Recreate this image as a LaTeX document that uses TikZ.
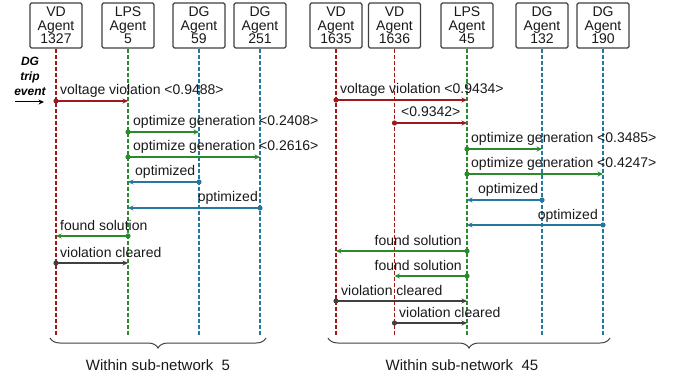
\documentclass[tikz,border=0pt]{standalone}
\usepackage{fontspec}
\setmainfont{Liberation Sans}
\usetikzlibrary{arrows.meta,decorations.pathreplacing}
\definecolor{vdred}{HTML}{9E1A1A}
\definecolor{lpsgreen}{HTML}{2B8A2B}
\definecolor{dgblue}{HTML}{25779E}
\definecolor{clrgray}{HTML}{404040}
\newcommand\msgarrow[5]{%
  \coordinate (#5s) at (#2 |- 0,#4);
  \coordinate (#5e) at (#3 |- 0,#4);
  \draw[msg,#1] (#5s) -- (#5e);
  \fill[#1] (#5s) circle (2.6pt);}
\begin{document}
\begin{tikzpicture}[x=1pt,y=-1pt,
  agent/.style={draw=clrgray, line width=1.3pt, rounded corners=1.5pt, fill=white,
    minimum width=52pt, minimum height=45pt, inner sep=0pt, align=center,
    font=\fontsize{14}{13.5}\selectfont, text=black!90},
  life/.style={dashed, dash pattern=on 4pt off 2pt, line width=1.2pt},
  msg/.style={line width=1.3pt, -{Stealth[length=5.5pt,width=5pt]}},
  lbl/.style={inner sep=0pt, font=\fontsize{14}{16}\selectfont, text=black!90},
  sub/.style={font=\fontsize{15}{18}\selectfont, text=black!90}]
\useasboundingbox (0,0) rectangle (678,377);
% agents
\node[agent] (b1) at (56,25.5) {VD\\Agent\\1327};
\node[agent] (b2) at (128,25.5) {LPS\\Agent\\5};
\node[agent] (b3) at (199,25.5) {DG\\Agent\\59};
\node[agent] (b4) at (260,25.5) {DG\\Agent\\251};
\node[agent] (b5) at (336,25.5) {VD\\Agent\\1635};
\node[agent] (b6) at (394.5,25.5) {VD\\Agent\\1636};
\node[agent] (b7) at (467,25.5) {LPS\\Agent\\45};
\node[agent] (b8) at (542,25.5) {DG\\Agent\\132};
\node[agent] (b9) at (603,25.5) {DG\\Agent\\190};
% lifelines
\foreach \b/\c in {b1/vdred,b2/lpsgreen,b3/dgblue,b4/dgblue,b5/vdred,b6/vdred,b7/lpsgreen,b8/dgblue,b9/dgblue}
  \draw[life,\c] (\b.south) -- (\b.south |- 0,335);
% trip event
\node[inner sep=0pt, align=center, font=\fontsize{12}{15}\bfseries\itshape\selectfont] (trip) at (30,76) {DG\\trip\\event};
\coordinate (tripa) at (15,102);
\coordinate (tripb) at (44,102);
\draw[line width=1pt, -{Stealth[length=5.5pt,width=5pt]}] (tripa) -- (tripb);
% messages, sub-network 5
\msgarrow{vdred}{b1}{b2}{101}{m1}
\node[lbl, anchor=base west] (t1) at (60,95) {voltage violation <0.9488>};
\msgarrow{lpsgreen}{b2}{b3}{132}{m2}
\node[lbl, anchor=base west] (t2) at (133,126) {optimize generation <0.2408>};
\msgarrow{lpsgreen}{b2}{b4}{157}{m3}
\node[lbl, anchor=base west] (t3) at (133,151) {optimize generation <0.2616>};
\msgarrow{dgblue}{b3}{b2}{182}{m4}
\node[lbl, anchor=base west] (t4) at (135,176) {optimized};
\msgarrow{dgblue}{b4}{b2}{208}{m5}
\node[lbl, anchor=base east] (t5) at (258,202) {optimized};
\msgarrow{lpsgreen}{b2}{b1}{236}{m6}
\node[lbl, anchor=base west] (t6) at (60,230) {found solution};
\msgarrow{clrgray}{b1}{b2}{263}{m7}
\node[lbl, anchor=base west] (t7) at (60,257) {violation cleared};
% messages, sub-network 45
\msgarrow{vdred}{b5}{b7}{100}{m8}
\node[lbl, anchor=base west] (t8) at (340,94) {voltage violation <0.9434>};
\msgarrow{vdred}{b6}{b7}{123}{m9}
\node[lbl, anchor=base west] (t9) at (401,117) {<0.9342>};
\msgarrow{lpsgreen}{b7}{b8}{149}{m10}
\node[lbl, anchor=base west] (t10) at (471,143) {optimize generation <0.3485>};
\msgarrow{lpsgreen}{b7}{b9}{174}{m11}
\node[lbl, anchor=base west] (t11) at (471,168) {optimize generation <0.4247>};
\msgarrow{dgblue}{b8}{b7}{200}{m12}
\node[lbl, anchor=base west] (t12) at (478,194) {optimized};
\msgarrow{dgblue}{b9}{b7}{225}{m13}
\node[lbl, anchor=base east] (t13) at (598,219) {optimized};
\msgarrow{lpsgreen}{b7}{b5}{251}{m14}
\node[lbl, anchor=base east] (t14) at (462,245) {found solution};
\msgarrow{lpsgreen}{b7}{b6}{276}{m15}
\node[lbl, anchor=base east] (t15) at (462,270) {found solution};
\msgarrow{clrgray}{b5}{b7}{301}{m16}
\node[lbl, anchor=base west] (t16) at (341,295) {violation cleared};
\msgarrow{clrgray}{b6}{b7}{323}{m17}
\node[lbl, anchor=base west] (t17) at (399,317) {violation cleared};
% braces
\coordinate (br1s) at (50,338);
\coordinate (br1e) at (266,338);
\coordinate (br2s) at (328,338);
\coordinate (br2e) at (610,338);
\draw[clrgray, line width=1pt, decorate, decoration={brace, mirror, amplitude=10pt}] (br1s) -- (br1e);
\draw[clrgray, line width=1pt, decorate, decoration={brace, mirror, amplitude=10pt}] (br2s) -- (br2e);
\node[sub] (w1) at (158,365) {Within sub-network\ \ 5};
\node[sub] (w2) at (462,365) {Within sub-network\ \ 45};
\end{tikzpicture}
\end{document}
